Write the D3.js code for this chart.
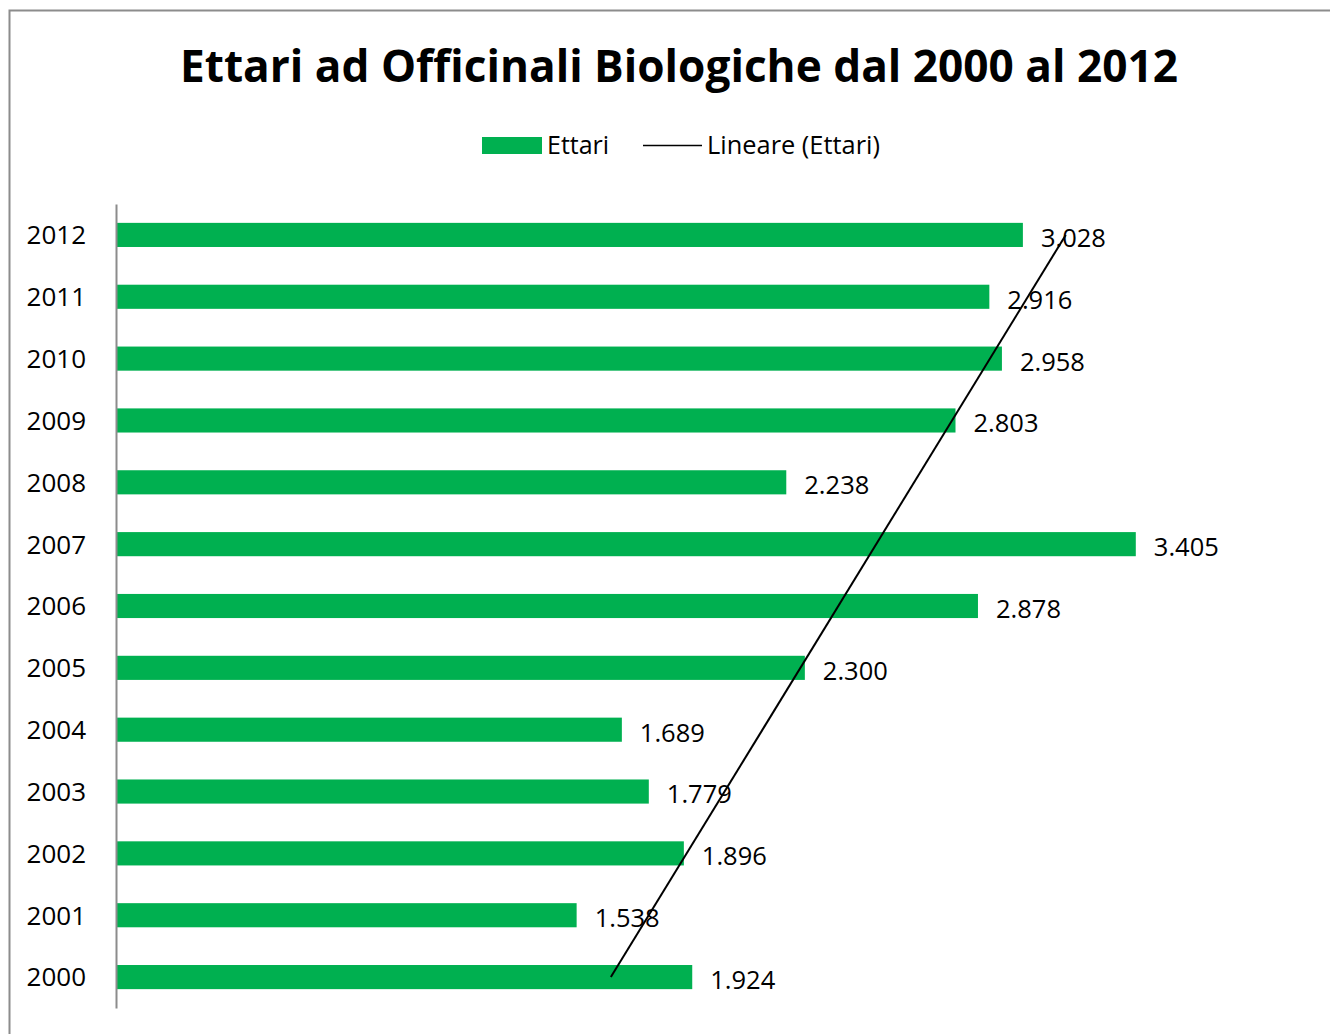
<!DOCTYPE html>
<html>
<head>
<meta charset="utf-8">
<script src="https://cdn.jsdelivr.net/npm/d3@7"></script>
<style>
  body { margin: 0; background: #fff; }
  svg { display: block; font-family: 'Open Sans', sans-serif; }
</style>
</head>
<body>
<svg width="1330" height="1034"></svg>
<script>
    const years = ['2000', '2001', '2002', '2003', '2004', '2005', '2006', '2007', '2008', '2009', '2010', '2011', '2012'];
    const ettari = [1924, 1538, 1896, 1779, 1689, 2300, 2878, 3405, 2238, 2803, 2958, 2916, 3028];
    const titleText = 'Ettari ad Officinali Biologiche dal 2000 al 2012';
    const legendLabels = ['Ettari', 'Lineare (Ettari)'];

    const svg = d3.select('svg');
    const green = '#00b050';
    const it = d3.formatLocale({ decimal: ',', thousands: '.', grouping: [3], currency: ['', ' €'] });
    const fmt = it.format(',d');

    // chart frame (only top and left edge are in view)
    svg.append('rect')
        .attr('x', 9.5).attr('y', 10.5)
        .attr('width', 1400).attr('height', 1100)
        .attr('fill', 'none')
        .attr('stroke', '#8c8c8c')
        .attr('stroke-width', 2);

    svg.append('text')
        .attr('x', 679).attr('y', 82)
        .attr('text-anchor', 'middle')
        .attr('font-size', 44)
        .attr('font-weight', 'bold')
        .attr('textLength', 998)
        .attr('lengthAdjust', 'spacingAndGlyphs')
        .text(titleText);

    // legend
    const legend = svg.append('g').attr('font-size', 25);
    legend.append('rect')
        .attr('x', 482).attr('y', 137).attr('width', 60).attr('height', 17)
        .attr('fill', green);
    legend.append('text').attr('x', 547).attr('y', 154).text(legendLabels[0]);
    legend.append('line')
        .attr('x1', 643).attr('x2', 702).attr('y1', 145.5).attr('y2', 145.5)
        .attr('stroke', '#000').attr('stroke-width', 1.5);
    legend.append('text').attr('x', 707).attr('y', 154)
        .attr('textLength', 173).attr('lengthAdjust', 'spacingAndGlyphs')
        .text(legendLabels[1]);

    const x = d3.scaleLinear().domain([0, 4000]).range([116, 1314]);
    const y = d3.scaleBand()
        .domain(years.slice().reverse())
        .range([204, 1008])
        .paddingInner(0.61)
        .paddingOuter(0.305);

    const data = years.map((yr, i) => ({ year: yr, value: ettari[i], idx: i }));

    svg.append('g')
        .selectAll('rect')
        .data(data)
        .enter().append('rect')
          .attr('x', x(0))
          .attr('y', d => y(d.year))
          .attr('width', d => x(d.value) - x(0))
          .attr('height', y.bandwidth())
          .attr('fill', green);

    // y axis
    const yAxis = svg.append('g')
        .attr('transform', `translate(${x(0)},0)`)
        .call(d3.axisLeft(y).tickSize(0).tickPadding(30));
    yAxis.select('.domain').attr('stroke', '#8c8c8c').attr('stroke-width', 2);
    yAxis.selectAll('text')
        .attr('font-size', 26)
        .attr('font-family', "'Open Sans', sans-serif")
        .attr('fill', '#000')
        .attr('dy', '0.36em');

    // value labels
    svg.append('g')
        .selectAll('text')
        .data(data)
        .enter().append('text')
          .attr('x', d => x(d.value) + 18)
          .attr('y', d => y(d.year) + y.bandwidth() / 2 + 3)
          .attr('dy', '0.35em')
          .attr('font-size', 25.5)
          .text(d => fmt(d.value));

    // linear trend (least squares over category index)
    const n = ettari.length;
    const mx = d3.mean(data, d => d.idx);
    const my = d3.mean(ettari);
    const slope = d3.sum(data, d => (d.idx - mx) * (d.value - my)) / d3.sum(data, d => (d.idx - mx) ** 2);
    const icpt = my - slope * mx;
    const trend = [0, n - 1].map(i => ({ year: years[i], value: icpt + slope * i }));

    svg.append('path')
        .datum(trend)
        .attr('fill', 'none')
        .attr('stroke', '#000')
        .attr('stroke-width', 2)
        .attr('d', d3.line()
          .x(d => x(d.value))
          .y(d => y(d.year) + y.bandwidth() / 2));
</script>
</body>
</html>
